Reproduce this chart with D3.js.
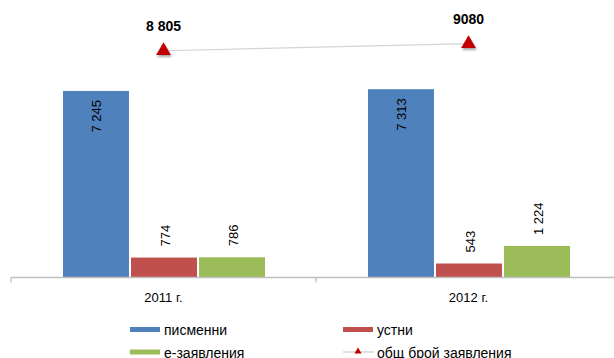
<!DOCTYPE html>
<html>
<head>
<meta charset="utf-8">
<script src="https://cdn.jsdelivr.net/npm/d3@7"></script>
<style>
  html, body { margin: 0; padding: 0; background: #fff; }
  svg { display: block; font-family: "Liberation Sans", Arial, sans-serif; }
</style>
</head>
<body>
<svg id="chart" width="614" height="358"></svg>
<script>
// Applications by type, per year
const years = ["2011 г.", "2012 г."];
const seriesNames = ["писменни", "устни", "е-заявления"];
const written = [7245, 7313];
const oral = [774, 543];
const electronic = [786, 1224];
const totals = [8805, 9080];
const totalLabels = ["8 805", "9080"];
const totalName = "общ брой заявления";

const colors = ["#4F81BD", "#C0504D", "#9BBB59"];
const seriesValues = [written, oral, electronic];

const fmt = v => d3.format(",")(v).replace(/,/g, " ");

const svg = d3.select("#chart");

const x0 = d3.scaleBand().domain(years).range([11, 621]);
const x1 = d3.scaleBand().domain(seriesNames).range([52, 254]).paddingInner(0.03);
const y = d3.scaleLinear().domain([0, 10000]).range([277.5, 20]);

const defs = svg.append("defs");
const shadow = defs.append("filter").attr("id", "shadow")
  .attr("x", "-50%").attr("y", "-50%").attr("width", "200%").attr("height", "200%");
shadow.append("feDropShadow").attr("dx", 1).attr("dy", 2).attr("stdDeviation", 1.2)
  .attr("flood-color", "#000").attr("flood-opacity", 0.35);

// bars
const groups = svg.append("g").selectAll("g")
  .data(years)
  .join("g")
  .attr("transform", d => `translate(${x0(d)},0)`);

groups.each(function (year, yi) {
  const g = d3.select(this);
  seriesNames.forEach((name, si) => {
    const v = seriesValues[si][yi];
    g.append("rect")
      .attr("x", x1(name))
      .attr("y", y(v))
      .attr("width", x1.bandwidth())
      .attr("height", y(0) - y(v))
      .attr("fill", colors[si]);
    const cx = x1(name) + x1.bandwidth() / 2;
    // value labels: inside the tall bar, above the short ones
    const inside = (y(0) - y(v)) > 80;
    const ly = inside ? y(v) + 9 : y(v) - 11;
    g.append("text")
      .attr("transform", `translate(${cx + 5.5},${ly}) rotate(-90)`)
      .attr("text-anchor", inside ? "end" : "start")
      .attr("font-size", 13)
      .attr("fill", "#000")
      .text(fmt(v));
  });
});

// category axis
const axisY = y(0);
svg.append("line")
  .attr("x1", 11).attr("x2", 614).attr("y1", axisY).attr("y2", axisY)
  .attr("stroke", "#BFBFBF").attr("stroke-width", 1.3);
[x0.range()[0], x0(years[1])].forEach(t => {
  svg.append("line")
    .attr("x1", t).attr("x2", t).attr("y1", axisY).attr("y2", axisY + 5)
    .attr("stroke", "#BFBFBF").attr("stroke-width", 1.3);
});
svg.append("g").selectAll("text")
  .data(years)
  .join("text")
  .attr("x", d => x0(d) + x0.bandwidth() / 2)
  .attr("y", 301.5)
  .attr("text-anchor", "middle")
  .attr("font-size", 13)
  .attr("fill", "#000")
  .text(d => d);

// totals line with triangle markers
const pts = years.map((d, i) => [x0(d) + x0.bandwidth() / 2, y(totals[i])]);
svg.append("path")
  .attr("d", d3.line()(pts))
  .attr("fill", "none")
  .attr("stroke", "#D4D4D4")
  .attr("stroke-width", 1.2);
const tri = d3.symbol(d3.symbolTriangle, 95);
svg.append("g").selectAll("path")
  .data(pts)
  .join("path")
  .attr("d", tri)
  .attr("transform", d => `translate(${d[0]},${d[1]})`)
  .attr("fill", "#C00000")
  .attr("filter", "url(#shadow)");
svg.append("g").selectAll("text")
  .data(pts)
  .join("text")
  .attr("x", d => d[0])
  .attr("y", d => d[1] - 20)
  .attr("text-anchor", "middle")
  .attr("font-size", 14)
  .attr("font-weight", "bold")
  .attr("fill", "#000")
  .text((d, i) => totalLabels[i]);

// legend
const legendItems = [
  { name: seriesNames[0], color: colors[0], x: 130, y: 329.5, type: "bar" },
  { name: seriesNames[1], color: colors[1], x: 343, y: 329.5, type: "bar" },
  { name: seriesNames[2], color: colors[2], x: 130, y: 352, type: "bar" },
  { name: totalName, color: "#C00000", x: 343, y: 352, type: "line" }
];
const leg = svg.append("g").selectAll("g")
  .data(legendItems)
  .join("g")
  .attr("transform", d => `translate(${d.x},${d.y})`);
leg.filter(d => d.type === "bar").append("rect")
  .attr("x", 0).attr("y", -2.5).attr("width", 30).attr("height", 5)
  .attr("fill", d => d.color);
const lineLeg = leg.filter(d => d.type === "line");
lineLeg.append("line")
  .attr("x1", 0).attr("x2", 31).attr("y1", 0).attr("y2", 0)
  .attr("stroke", "#BFBFBF").attr("stroke-width", 1);
lineLeg.append("path")
  .attr("d", d3.symbol(d3.symbolTriangle, 22))
  .attr("transform", "translate(15,-0.5)")
  .attr("fill", "#C00000");
leg.append("text")
  .attr("x", 34).attr("y", 5.5)
  .attr("font-size", 14)
  .attr("fill", "#000")
  .text(d => d.name);
</script>
</body>
</html>
